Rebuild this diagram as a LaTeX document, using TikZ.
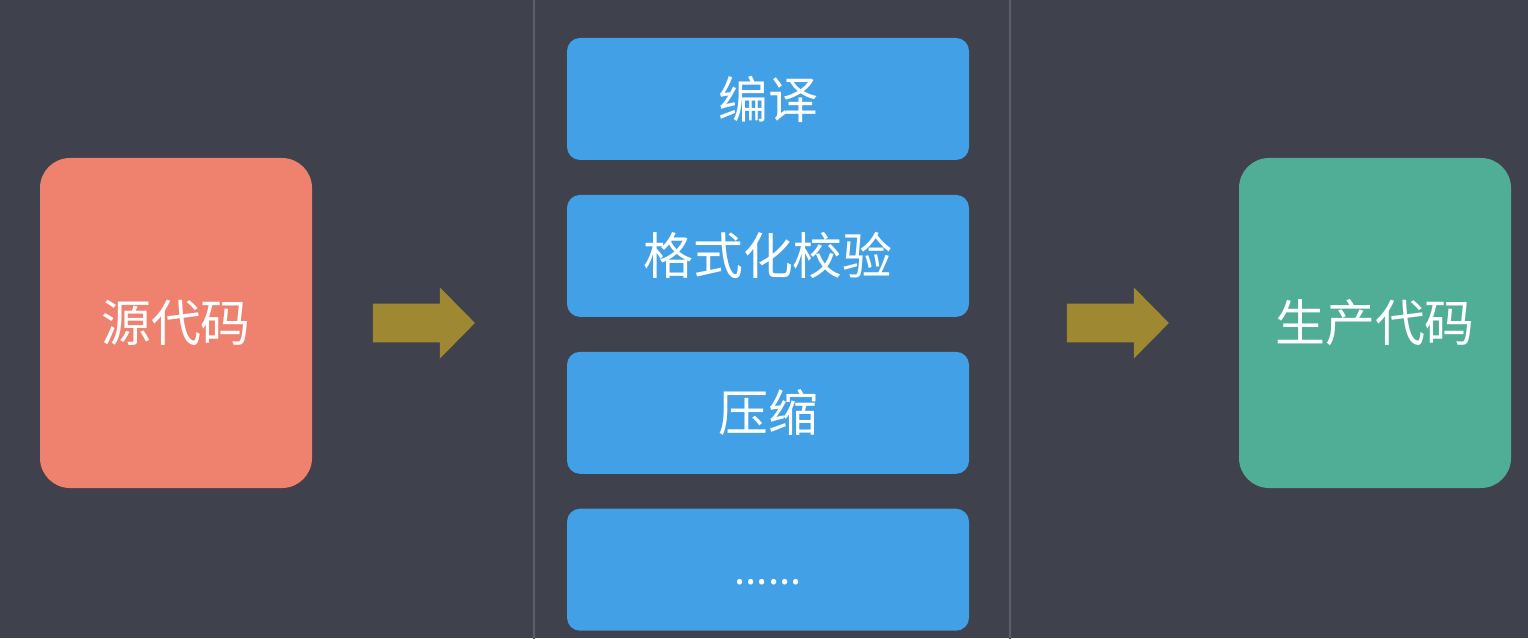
\documentclass[tikz,border=0pt]{standalone}
\usepackage{fontspec}
\newfontfamily\cjk{Noto Sans CJK SC}
\usepackage{tikz}
\usetikzlibrary{positioning,calc}
\definecolor{bgdark}{RGB}{63,65,76}
\definecolor{panelgray}{RGB}{92,94,104}
\definecolor{srcred}{RGB}{239,130,111}
\definecolor{prodgreen}{RGB}{80,174,151}
\definecolor{stageblue}{RGB}{66,160,230}
\definecolor{flowgold}{RGB}{158,136,50}

\begin{document}
\begin{tikzpicture}[
  box/.style={rounded corners=0.3cm, minimum width=2.72cm, minimum height=3.3cm,
    text=white, font=\cjk\fontsize{14.2}{17}\selectfont},
  stage/.style={fill=stageblue, rounded corners=0.13cm, minimum width=4.02cm,
    minimum height=1.22cm, text=white, font=\cjk\fontsize{14.2}{17}\selectfont},
  flow/.style={fill=flowgold}]
\fill[bgdark] (0,0) rectangle (15.28,6.38);
\useasboundingbox (0,0) rectangle (15.28,6.38);
\clip (0,0) rectangle (15.28,6.38);
% tool chain panel
\node[draw=panelgray, line width=0.6pt, rounded corners=0.3cm,
  minimum width=4.76cm, minimum height=7cm] (panel) at (7.72,3.15) {};
\node[stage] (compile) at (7.68,5.39) {编译};
\node[stage, below=0.335cm of compile] (lint) {格式化校验};
\node[stage, below=0.335cm of lint] (minify) {压缩};
\node[stage, below=0.335cm of minify] (more)
  {\fontsize{11.5}{14}\selectfont\raisebox{-0.15cm}[0pt][0pt]{......}};
% input and output
\node[box, fill=srcred] (src) at (1.76,3.15) {源代码};
\node[box, fill=prodgreen] (prod) at (13.75,3.15) {生产代码};
% block arrows
\foreach \from/\to/\f in {src/panel/0.505, panel/prod/0.47}
  \fill[flow] ($(\from.east)!\f!(\to.west)$) ++(-0.51,-0.195) -- ++(0.67,0)
    -- ++(0,-0.16) -- ++(0.35,0.355) -- ++(-0.35,0.355) -- ++(0,-0.16)
    -- ++(-0.67,0) -- cycle;
\end{tikzpicture}
\end{document}
